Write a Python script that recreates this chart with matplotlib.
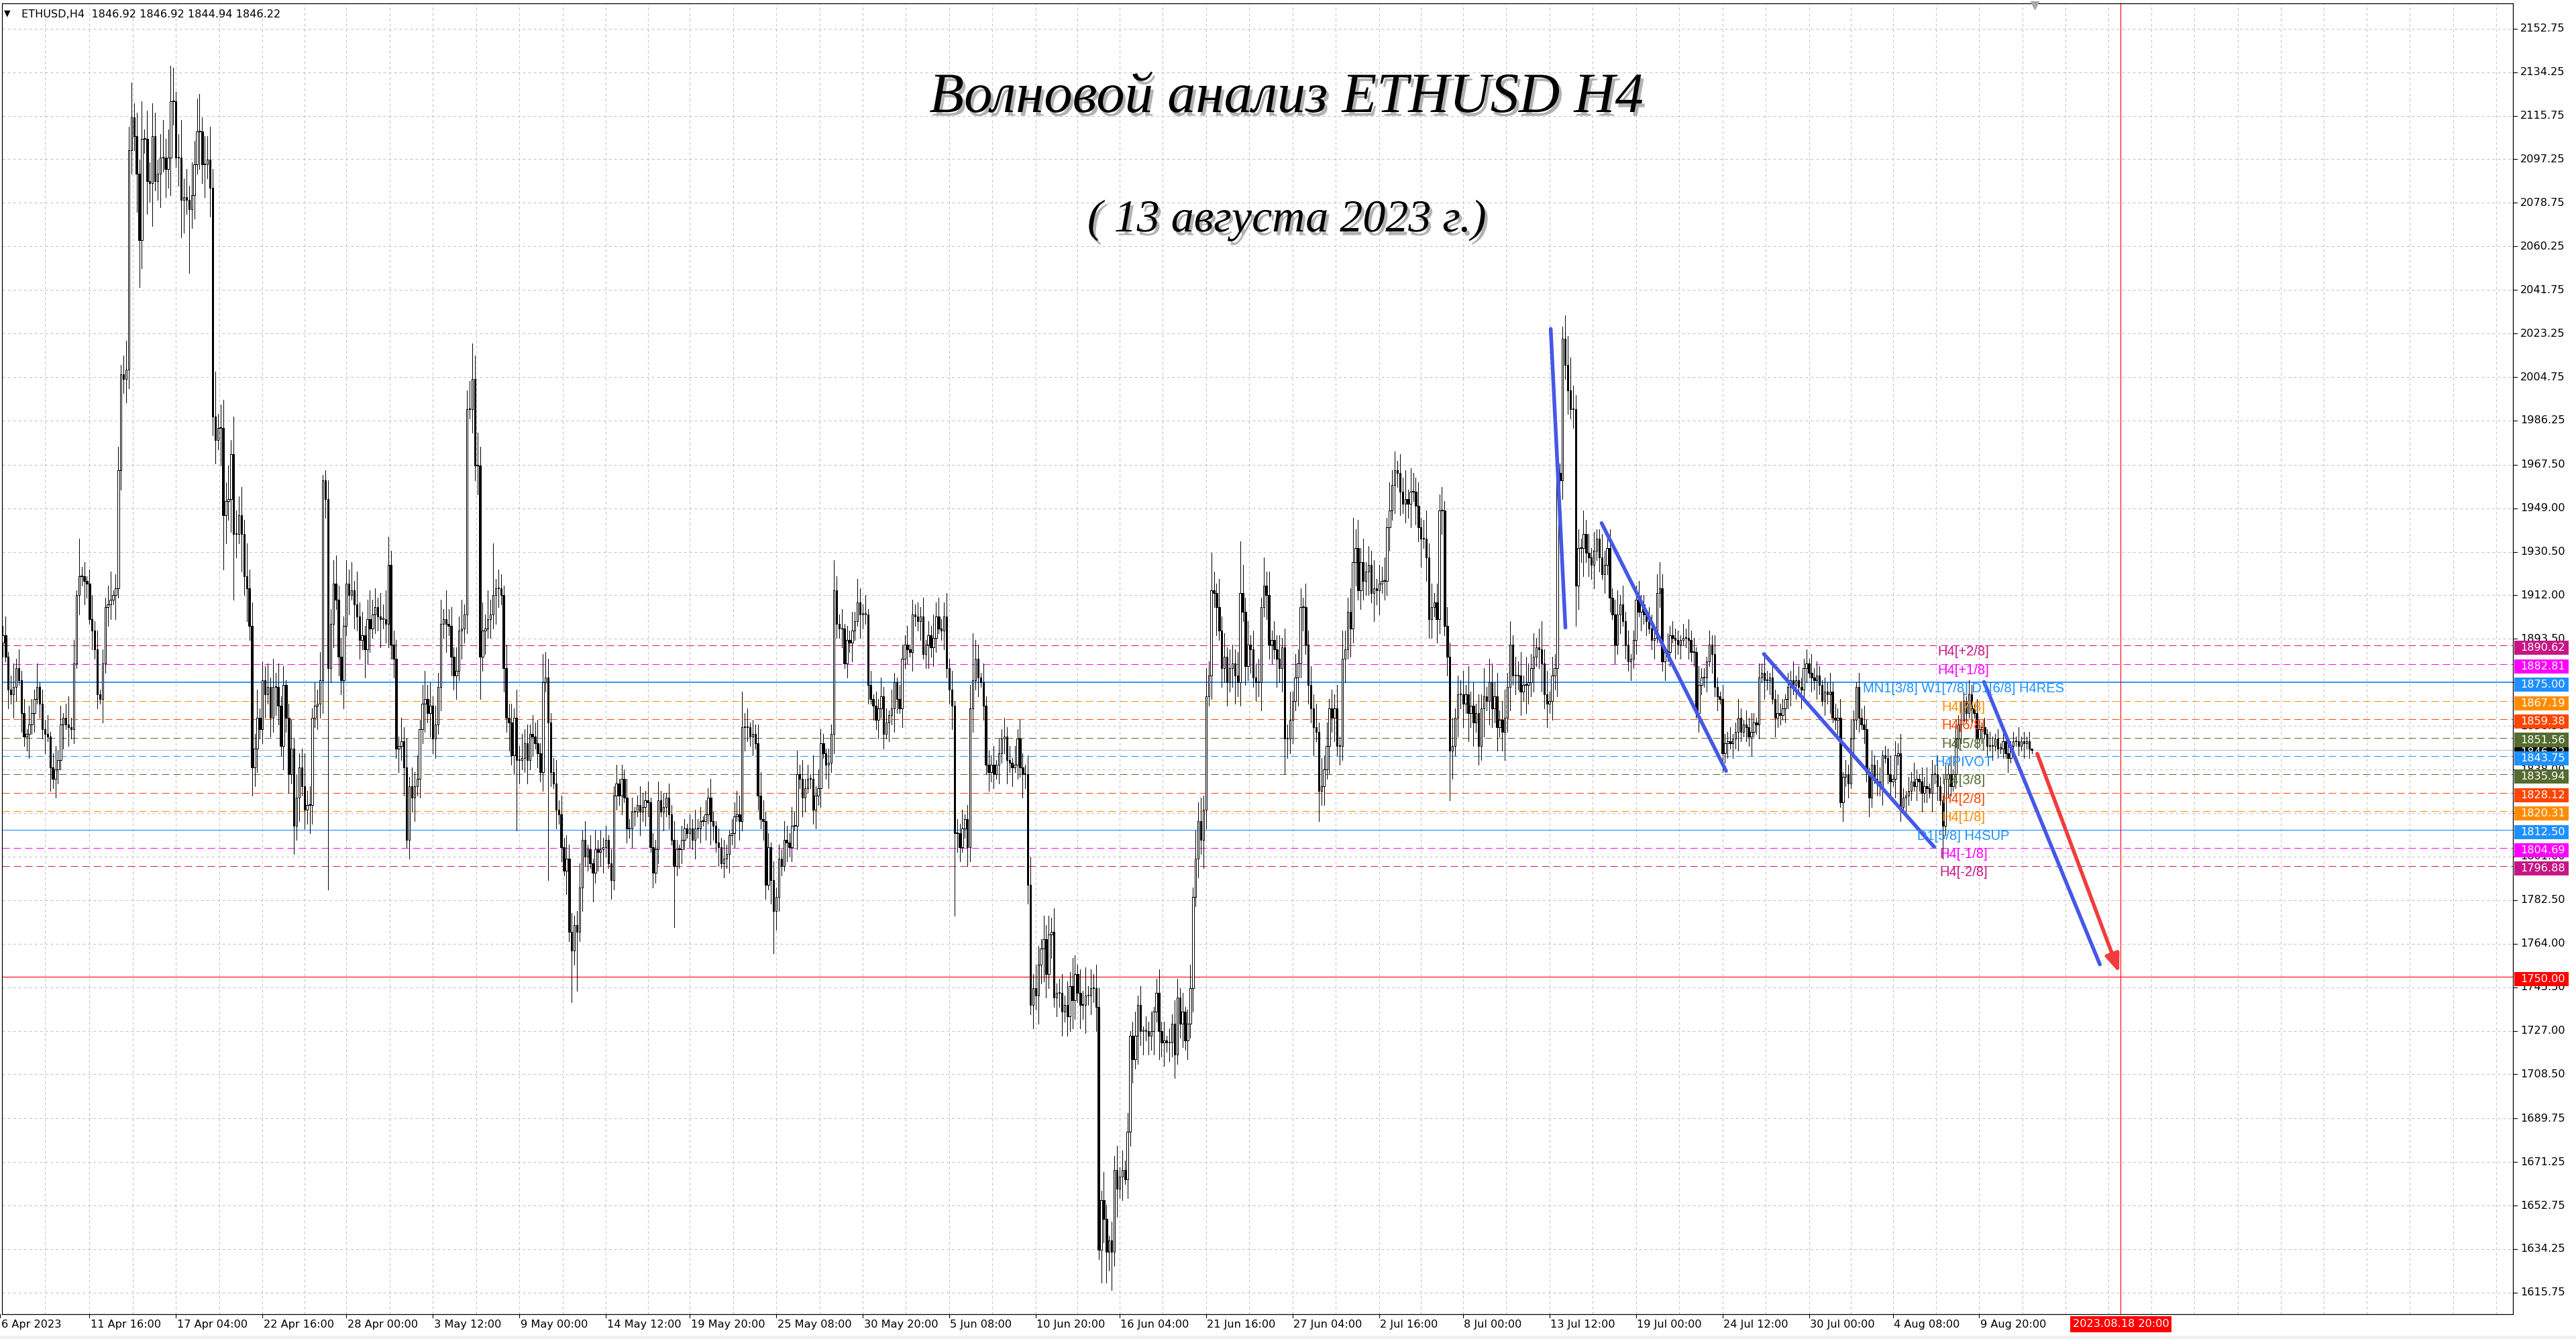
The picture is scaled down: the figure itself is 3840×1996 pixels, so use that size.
import numpy as np
import pandas as pd
import matplotlib
matplotlib.use("Agg")
import matplotlib.pyplot as plt
import matplotlib.patheffects as pe
from matplotlib.patches import Rectangle
from matplotlib.transforms import blended_transform_factory as blend

# ETHUSD H4, first bar 6 Apr 2023 00:00
START = pd.Timestamp("2023-04-06 00:00")
FIRST_OPEN = 1890.0

# closes, one value per 4h bar
close_a = [
    1892, 1895, 1886, 1872, 1870, 1873, 1881, 1876, 1862, 1852,
    1853, 1857, 1862, 1868, 1873, 1866, 1855, 1853, 1852, 1839,
    1834, 1838, 1842, 1857, 1860, 1857, 1856, 1855, 1883, 1912,
    1920, 1920, 1918, 1917, 1902, 1897, 1889, 1870, 1868, 1883,
    1907, 1908, 1910, 1912, 1915, 1965, 2006, 2004, 2008, 2101,
    2115, 2107, 2091, 2063, 2106, 2106, 2088, 2087, 2107, 2088,
    2091, 2098, 2098, 2093, 2098, 2122, 2122, 2098, 2098, 2080,
    2081, 2080, 2076, 2082, 2095, 2109, 2109, 2095, 2095, 2097,
    2085, 1988, 1978, 1983, 1983, 1946, 1952, 1953, 1972, 1938,
    1938, 1946, 1938, 1920, 1915, 1899, 1839, 1847, 1860, 1855,
    1876, 1870, 1873, 1860, 1873, 1873, 1865, 1848, 1874, 1860,
    1836, 1847, 1814, 1826, 1839, 1831, 1821, 1823, 1823, 1860,
    1865, 1866, 1876, 1961, 1953, 1881, 1900, 1917, 1910, 1886,
    1876, 1899, 1917, 1912, 1914, 1908, 1903, 1893, 1895, 1889,
    1902, 1898, 1904, 1907, 1903, 1902, 1902, 1900, 1925, 1891,
    1885, 1847, 1848, 1850, 1839, 1808, 1831, 1826, 1831, 1834,
    1855, 1866, 1868, 1862, 1865, 1851, 1857, 1873, 1900, 1902,
    1900, 1899, 1886, 1878, 1880, 1897, 1898, 1904, 1991, 1991,
    2004, 1967, 1967, 1886, 1897, 1898, 1902, 1904, 1912, 1915,
    1915, 1912, 1881, 1860, 1858, 1844, 1860, 1842, 1842, 1843,
    1849, 1842, 1853, 1852, 1849,
]
close_b = [
    1845, 1837, 1875, 1877, 1858, 1837, 1832, 1821, 1819, 1805,
    1795, 1800, 1769, 1761, 1772, 1769, 1788, 1808, 1801, 1804,
    1798, 1794, 1804, 1803, 1804, 1805, 1808, 1798, 1791, 1827,
    1832, 1827, 1834, 1826, 1813, 1813, 1820, 1820, 1823, 1820, 1822,
    1825, 1824, 1805, 1794, 1804, 1825, 1820, 1822, 1826, 1819,
    1808, 1797, 1804, 1804, 1808, 1813, 1811, 1813, 1808, 1813,
    1813, 1816, 1816, 1819, 1826, 1816, 1814, 1807, 1805, 1798, 1800,
    1802, 1810, 1811, 1818, 1819, 1816, 1856, 1856, 1856, 1852,
    1853, 1849, 1827, 1817, 1816, 1789, 1805, 1791, 1778, 1784,
    1800, 1797, 1808, 1807, 1805, 1814, 1814, 1836, 1834, 1826, 1830,
    1834, 1834, 1821, 1827, 1830, 1849, 1845, 1840, 1841, 1853,
    1914, 1900, 1898, 1898, 1883, 1893, 1892, 1897, 1901, 1909,
    1904, 1904, 1904, 1874, 1868, 1865, 1859, 1864, 1869, 1853, 1858,
    1861, 1864, 1875, 1868, 1864, 1885, 1891, 1889, 1888, 1904,
    1903, 1901, 1903, 1887, 1891, 1895, 1890, 1894, 1903, 1898, 1897,
    1903, 1881, 1872, 1865, 1811, 1811, 1805, 1813, 1817, 1805,
    1864, 1876, 1885, 1877, 1875, 1865, 1840, 1837, 1840, 1836,
    1840, 1845, 1851, 1852, 1842, 1841, 1839, 1840, 1851, 1839, 1836,
    1836, 1789, 1738,
    1745, 1742, 1755, 1762, 1766, 1751, 1768, 1769, 1741, 1743,
]
close_c = [
    1743, 1735, 1738, 1733, 1746, 1740, 1751, 1743, 1738, 1738, 1742,
    1742, 1745, 1745, 1737, 1634, 1655, 1647, 1633, 1638, 1633,
    1668, 1660, 1665, 1668, 1664, 1684, 1725, 1715, 1725, 1738,
    1727, 1727, 1727, 1725, 1727, 1735, 1743, 1727, 1722, 1723, 1722,
    1722, 1730, 1717, 1741, 1730, 1735, 1723, 1730, 1745, 1784,
    1800, 1816, 1808, 1821, 1869, 1878, 1914, 1913, 1907, 1897,
    1881, 1886, 1875, 1881, 1883, 1878, 1875, 1913, 1905, 1882, 1891,
    1889, 1877, 1875, 1875, 1907, 1916, 1912, 1891, 1893, 1889, 1885,
    1881, 1890, 1851, 1851, 1859, 1867, 1877, 1883, 1907, 1907,
    1891, 1874, 1864, 1856, 1854, 1829, 1831, 1838, 1848, 1864, 1860,
    1864, 1848, 1848, 1885, 1889, 1905, 1898, 1926, 1932, 1914,
    1926, 1918, 1922, 1925, 1913, 1915, 1914, 1917, 1918, 1918, 1941,
    1948, 1959, 1965, 1964, 1956, 1951, 1953, 1951, 1956, 1956, 1950,
    1941, 1936, 1936, 1928, 1902, 1907, 1909, 1902, 1948, 1948,
    1899, 1886, 1846, 1848, 1860, 1870, 1870, 1866, 1870, 1862, 1865,
    1858, 1862, 1848, 1864, 1869, 1867, 1875, 1864, 1869, 1856,
    1859, 1854, 1860, 1873, 1891, 1878, 1878, 1878, 1871, 1874, 1874,
    1875, 1881, 1886, 1890, 1889, 1883, 1870, 1866, 1867, 1878,
    1881, 1964, 1961, 2021, 2010, 1999, 1991, 1991, 1916, 1932, 1932, 1938,
]
close_d = [
    1930, 1928, 1925, 1931, 1936, 1928, 1921, 1925, 1932,
    1911, 1904, 1891, 1904, 1908, 1901, 1891, 1884, 1885, 1893,
    1910, 1905, 1908, 1904, 1901, 1898, 1893, 1894, 1913,
    1915, 1884, 1888, 1888, 1895, 1894, 1893, 1891, 1893,
    1894, 1894, 1893, 1888, 1888, 1862, 1874, 1877, 1877,
    1884, 1891, 1887, 1873, 1869, 1868, 1845, 1849, 1850, 1849,
    1851, 1854, 1860, 1854, 1857, 1856, 1852, 1854, 1858,
    1857, 1877, 1879, 1876, 1876, 1877, 1868, 1860, 1862, 1861,
    1864, 1868, 1873, 1876, 1874, 1876, 1873, 1872, 1881,
    1883, 1879, 1877, 1876, 1878, 1874, 1867, 1871, 1870,
    1871, 1860, 1859, 1860, 1824, 1835, 1836, 1832, 1851, 1859,
    1873, 1860, 1857, 1855, 1837, 1826, 1840, 1834, 1833,
    1831, 1844, 1843, 1836, 1833, 1834, 1844, 1845, 1822,
    1826, 1827, 1829, 1833, 1831, 1834, 1833, 1828, 1831,
    1830, 1828, 1836, 1836, 1831, 1825, 1814, 1834, 1836, 1831,
    1836, 1851, 1857, 1859, 1867, 1862, 1870, 1864, 1862, 1851,
    1855, 1856, 1853, 1848, 1848, 1848, 1851, 1847, 1847,
    1850, 1845, 1843, 1848, 1850, 1850, 1848, 1850, 1849, 1850, 1846.92, 1846.22,
]

# wick lengths per bar, one digit per bar, in steps of 2 USD
UPPER_WICK = """
3241352423 1432513241 3524136251 4231352413 2461352465
7353826475 3584637258 4637548365 7483564738 5463745362
4352635241 3625347342 5364243563 4253627352 4634253623
3425362435 2463524352 6342536246 3574636352 4325342635
3424352614 2352425342 3524131424 2313241324 2312432413
2423132421 3213242313 2421324213 3542341324 5423142324
3243524231 5243213243 2413242532 4131324231 4213324132
3241325342 3524132413 5243142324 1324231424 3246354253
4352342536 4253624354 2631435242 4135241324 1352413254
2413526453 6354263524 4352635243 5263524352 4362534253
4352635243 5264352463 5243624352 6352436254 3524635243
5243624352 6352436254 3524635243 5264352463 5243624567
5342534243 2532423524 2312342213 3242314232 2132423142
2132421322 3124213242 1324213242 2132413223 1423213242
3241324213 2421324312 2413242132 4213241324 2132413242
1321321213 2121312121 3121213121 2131212131 2121312121
"""
LOWER_WICK = """
2314253142 3524132415 2432514231 4253142315 2431524354
5384637492 4736485264 7364528473 6452836473 5284736452
3524364253 4263524364 2537463524 3624153426 3524362453
4253624352 4362534253 6243526342 5364352436 4253624352
3524132425 3142315243 4252316243 5214232413 2431524313
2314231524 3213242314 2532413242 3142532413 2431524321
4231524312 3424135243 2413242153 2413242314 2531423142
2413524312 4235243124 3524132423 1423524132 5342536475
3524352436 4253624352 7564836251 4352635243 5263524352
3524352436 4253624352 4635243524 3625342635 2435263524
3625342635 2435263524 4352635243 5263524352 4362534253
5243624352 6352436254 3524635243 5264352463 5243624352
4253624352 3142314241 3242314231 2413242314 2312423142
2314231423 1324213241 2314231422 1324231423 1324213241
2314231423 1324213241 2314231422 1324231423 1324213241
2131213121 3121213121 2131213121 2121312121 3121213121
"""

# long wicks (bar index: price)
HIGH_SET = {30: 1936, 50: 2130, 65: 2137, 75: 2123, 82: 2007, 123: 1963, 148: 1937,
            180: 2019, 188: 1934, 208: 1888, 283: 1871, 318: 1927, 371: 1896,
            462: 1930, 473: 1935, 482: 1928, 516: 1945, 532: 1973, 549: 1955,
            596: 2026, 609: 1940, 633: 1926, 775: 1846.92}
LOW_SET = {53: 2043, 69: 2064, 72: 2049, 85: 1923, 89: 1910, 125: 1787, 155: 1805,
           183: 1868, 197: 1812, 209: 1791, 218: 1739, 220: 1744, 257: 1771,
           295: 1760, 364: 1776, 422: 1620, 490: 1836, 503: 1816, 545: 1894,
           553: 1825, 601: 1899, 741: 1800, 775: 1844.94}

PRICE_TICKS = [2152.75, 2134.25, 2115.75, 2097.25, 2078.75, 2060.25, 2041.75, 2023.25,
               2004.75, 1986.25, 1967.50, 1949.00, 1930.50, 1912.00, 1893.50, 1875.00,
               1856.50, 1838.00, 1819.50, 1801.00, 1782.50, 1764.00, 1745.50, 1727.00,
               1708.50, 1689.75, 1671.25, 1652.75, 1634.25, 1615.75]

DATE_TIMES = ["2023-04-06 00:00", "2023-04-11 16:00", "2023-04-17 04:00", "2023-04-22 16:00",
              "2023-04-28 00:00", "2023-05-03 12:00", "2023-05-09 00:00", "2023-05-14 12:00",
              "2023-05-19 20:00", "2023-05-25 08:00", "2023-05-30 20:00", "2023-06-05 08:00",
              "2023-06-10 20:00", "2023-06-16 04:00", "2023-06-21 16:00", "2023-06-27 04:00",
              "2023-07-02 16:00", "2023-07-08 00:00", "2023-07-13 12:00", "2023-07-19 00:00",
              "2023-07-24 12:00", "2023-07-30 00:00", "2023-08-04 08:00", "2023-08-09 20:00"]
DATE_LABELS = ["6 Apr 2023", "11 Apr 16:00", "17 Apr 04:00", "22 Apr 16:00", "28 Apr 00:00",
               "3 May 12:00", "9 May 00:00", "14 May 12:00", "19 May 20:00", "25 May 08:00",
               "30 May 20:00", "5 Jun 08:00", "10 Jun 20:00", "16 Jun 04:00", "21 Jun 16:00",
               "27 Jun 04:00", "2 Jul 16:00", "8 Jul 00:00", "13 Jul 12:00", "19 Jul 00:00",
               "24 Jul 12:00", "30 Jul 00:00", "4 Aug 08:00", "9 Aug 20:00"]
FUTURE_TIME = "2023-08-18 20:00"
FUTURE_LABEL = "2023.08.18 20:00"

# Murrey levels
LEVEL_PRICES = [1890.62, 1882.81, 1875.00, 1867.19, 1859.38, 1851.56, 1843.75,
                1835.94, 1828.12, 1820.31, 1812.50, 1804.69, 1796.88]
LEVEL_NAMES = ["H4[+2/8]", "H4[+1/8]", "MN1[3/8] W1[7/8] D1[6/8] H4RES", "H4[7/8]", "H4[6/8]",
               "H4[5/8]", "H4PIVOT", "H4[3/8]", "H4[2/8]", "H4[1/8]", "D1[5/8] H4SUP",
               "H4[-1/8]", "H4[-2/8]"]
LEVEL_COLORS = ["#C71585", "#FF00FF", "#1E90FF", "#FF8C00", "#FF4500", "#556B2F", "#1E90FF",
                "#556B2F", "#FF4500", "#FF8C00", "#1E90FF", "#FF00FF", "#C71585"]
LEVEL_SOLID = [False, False, True, False, False, False, False,
               False, False, False, True, False, False]
TARGET = 1750.00

# hand drawn wave lines (bar, price)
WAVES = [((591.5, 2025.2), (597.1, 1898.3)),
         ((610.9, 1942.7), (658.4, 1837.4)),
         ((672.8, 1887.1), (737.8, 1805.1)),
         ((756.8, 1875.2), (801.0, 1755.2))]
ARROW = ((777.1, 1844.7), (808.4, 1751.6))

TITLE = "Волновой анализ ETHUSD H4"
SUBTITLE = "( 13 августа 2023 г.)"

UI_FONT = "DejaVu Sans"
UI_SIZE = 11.6


def bar_of(t):
    return (pd.Timestamp(t) - START) / pd.Timedelta(hours=4)


close = np.array(close_a + close_b + close_c + close_d, dtype=float)
n = len(close)
opn = np.r_[FIRST_OPEN, close[:-1]]
up_w = np.array([int(c) for c in "".join(UPPER_WICK.split())][:n]) * 2.0
lo_w = np.array([int(c) for c in "".join(LOWER_WICK.split())][:n]) * 2.0
high = np.maximum(opn, close) + up_w
low = np.minimum(opn, close) - lo_w
for b, v in HIGH_SET.items():
    high[b] = v
for b, v in LOW_SET.items():
    low[b] = v
x = np.arange(n)

W, H = 3840, 1996
L, R, T, B = 3, 3746, 5, 1959
fig = plt.figure(figsize=(W / 100, H / 100), dpi=100)
fig.patch.set_facecolor("white")
ax = fig.add_axes([L / W, 1 - B / H, (R - L) / W, (B - T) / H])
ax.set_xlim(0.64, 958.6)
ax.set_ylim(1606.6, 2163.5)
ax.set_xticks([])
ax.set_yticks([])
for s in ax.spines.values():
    s.set_color("black")
    s.set_linewidth(0.9)

# grid
grid_style = dict(color="#c0c0c0", lw=0.72, ls=(0, (4, 4)), zorder=1)
for p in PRICE_TICKS:
    ax.axhline(p, **grid_style)
date_bars = [bar_of(t) for t in DATE_TIMES]
vgrid = list(date_bars) + [(a + b) / 2 for a, b in zip(date_bars[:-1], date_bars[1:])]
vgrid += list(date_bars[-1] + 16.43 * np.arange(1, 13))
for v in vgrid:
    ax.axvline(v, **grid_style)

# levels
for p, c, solid in zip(LEVEL_PRICES, LEVEL_COLORS, LEVEL_SOLID):
    if solid:
        ax.axhline(p, color=c, lw=1.3 if p == 1875.0 else 0.8, zorder=2)
    else:
        ax.axhline(p, color=c, lw=0.72, ls=(0, (11, 6)), zorder=2)
ax.axhline(close[-1], color="#c0c0c0", lw=0.9, zorder=2)
ax.axhline(TARGET, color="red", lw=0.8, zorder=2)
fut = bar_of(FUTURE_TIME)
ax.axvline(fut, color="red", lw=0.8, zorder=2)

# candles, drawn crisp like the terminal does
ax.vlines(x, low, high, color="black", lw=0.55, zorder=3, antialiased=False)
bull = close >= opn
body = np.maximum(np.abs(close - opn), 0.3)
ax.bar(x[bull], body[bull], bottom=opn[bull], width=0.62, color="white",
       edgecolor="black", linewidth=0.55, zorder=4, antialiased=False)
ax.bar(x[~bull], body[~bull], bottom=close[~bull], width=0.62, color="black",
       edgecolor="black", linewidth=0.55, zorder=4, antialiased=False)

# waves
for (x0, y0), (x1, y1) in WAVES:
    ax.plot([x0, x1], [y0, y1], color="#4558E6", lw=4, solid_capstyle="round", zorder=6)
ax.annotate("", xy=ARROW[1], xytext=ARROW[0],
            arrowprops=dict(arrowstyle="-|>,head_length=0.9,head_width=0.35", color="#F03C3C",
                            lw=4, mutation_scale=18, shrinkA=0, shrinkB=0), zorder=6)

# level names
for p, name, c in zip(LEVEL_PRICES, LEVEL_NAMES, LEVEL_COLORS):
    ax.text(749, p, name, color=c, fontsize=14.5, family="Liberation Sans",
            ha="center", va="top", zorder=7)

# price scale
ty = blend(ax.transAxes, ax.transData)
for p in PRICE_TICKS:
    ax.plot([1.0, 1.0016], [p, p], transform=ty, color="black", lw=0.8, clip_on=False)
    ax.text(1.0029, p, f"{p:.2f}", transform=ty, ha="left", va="center", fontsize=UI_SIZE,
            family=UI_FONT, clip_on=False, zorder=8)
box_h = 6.0
ax.add_patch(Rectangle((1.00053, close[-1] - box_h / 2 - 1), 0.02164, box_h, transform=ty,
                       facecolor="black", edgecolor="none", clip_on=False, zorder=9))
ax.text(1.0029, close[-1] - 1, f"{close[-1]:.2f}", transform=ty, ha="left", va="center",
        fontsize=UI_SIZE, family=UI_FONT, color="white", clip_on=False, zorder=9.5)
for p, c in zip(LEVEL_PRICES + [TARGET], LEVEL_COLORS + ["#FF0000"]):
    ax.add_patch(Rectangle((1.00053, p - box_h / 2 - 1), 0.02164, box_h, transform=ty,
                           facecolor=c, edgecolor="none", clip_on=False, zorder=10))
    ax.text(1.0029, p - 1, f"{p:.2f}", transform=ty, ha="left", va="center", fontsize=UI_SIZE,
            family=UI_FONT, color="white", clip_on=False, zorder=11)

# time scale
tx = blend(ax.transData, ax.transAxes)
for b, lab in zip(date_bars, DATE_LABELS):
    ax.plot([b, b], [0, -5 / 1954], transform=tx, color="black", lw=0.8, clip_on=False)
    ax.text(b + 0.4, -15 / 1954, lab, transform=tx, ha="left", va="center", fontsize=UI_SIZE,
            family=UI_FONT, clip_on=False)
ax.text(fut, -15 / 1954, FUTURE_LABEL, transform=tx, ha="center", va="center",
        fontsize=UI_SIZE, family=UI_FONT, color="white", clip_on=False,
        bbox=dict(boxstyle="square,pad=0.25", fc="#FF0000", ec="none"))
ax.plot([n], [1 - 3 / 1954], transform=tx, marker="v", color="#a8a8a8", ms=9,
        clip_on=False, zorder=12)

# header
fig.text(11 / W, 1 - 20 / H, "▼", fontsize=9, ha="center", va="center", family="DejaVu Sans")
fig.text(32 / W, 1 - 21 / H,
         f"ETHUSD,H4  {opn[-1]:.2f} {high[-1]:.2f} {low[-1]:.2f} {close[-1]:.2f}",
         fontsize=UI_SIZE, family=UI_FONT, ha="left", va="center")

# titles
shadow = [pe.withSimplePatchShadow(offset=(3, -4), shadow_rgbFace="#808080", alpha=0.6)]
fig.text(1918 / W, 1 - 167 / H, TITLE, ha="center", va="baseline", fontsize=61,
         family="Liberation Serif", style="italic", path_effects=shadow)
fig.text(1918 / W, 1 - 345 / H, SUBTITLE, ha="center", va="baseline", fontsize=49,
         family="Liberation Serif", style="italic", path_effects=shadow)

fig.patches.append(Rectangle((0, 0), 1, 5 / H, transform=fig.transFigure,
                             facecolor="#f0f0f0", edgecolor="none"))

fig.savefig("out.png", dpi=100)
